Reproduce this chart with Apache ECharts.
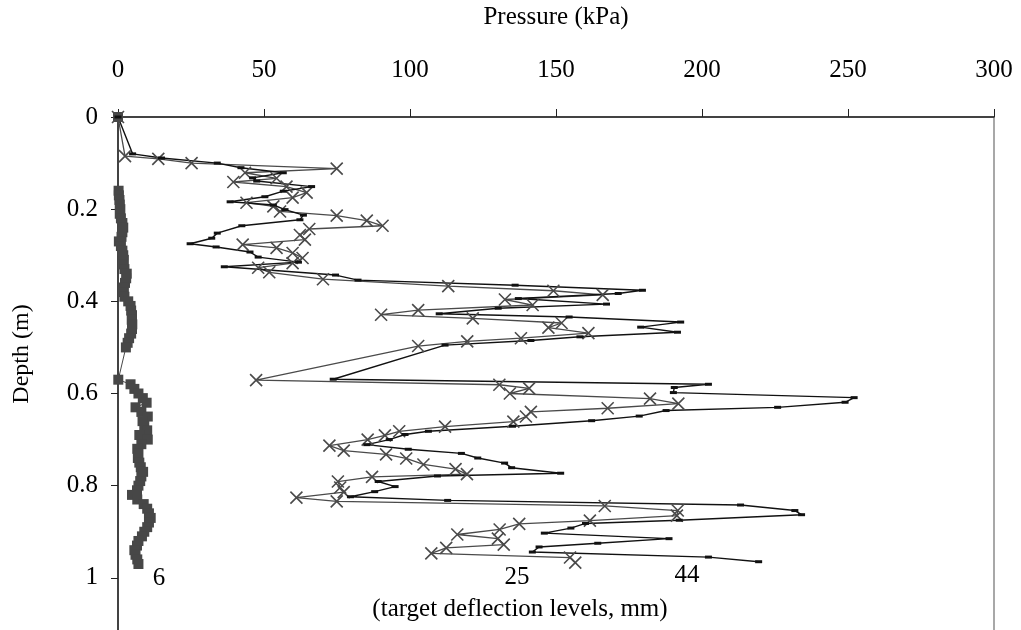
<!DOCTYPE html>
<html>
<head>
<meta charset="utf-8">
<script src="https://cdn.jsdelivr.net/npm/echarts@6/dist/echarts.min.js"></script>
<style>
  html, body { margin: 0; padding: 0; background: #fff; overflow: hidden; }
  #chart { width: 1021px; height: 700px; }
</style>
</head>
<body>
<div id="chart"></div>
<script>
// pressure axis ticks (kPa) and depth ticks (m)
const pressureTicks = [0, 50, 100, 150, 200, 250, 300];
const depthTicks = [0, 0.2, 0.4, 0.6, 0.8, 1];

// 6 mm deflection level (squares)
const sqDepth = [0, 0.08, 0.10, 0.12, 0.14, 0.16, 0.17, 0.18, 0.19, 0.20, 0.21, 0.22, 0.23, 0.24, 0.25,
  0.26, 0.27, 0.28, 0.29, 0.30, 0.31, 0.32, 0.33, 0.34, 0.35, 0.36, 0.37, 0.38, 0.39, 0.40,
  0.41, 0.42, 0.43, 0.44, 0.45, 0.46, 0.47, 0.48, 0.49, 0.50, 0.57, 0.58, 0.59, 0.60, 0.61,
  0.62, 0.63, 0.64, 0.65, 0.66, 0.67, 0.68, 0.69, 0.70, 0.71, 0.72, 0.73, 0.74, 0.75, 0.76,
  0.77, 0.78, 0.79, 0.80, 0.81, 0.82, 0.83, 0.84, 0.85, 0.86, 0.87, 0.88, 0.89, 0.90, 0.91,
  0.92, 0.93, 0.94, 0.95, 0.96, 0.97];
const sqPressure = [0, -2, -1.5, -1.2, -1.3, 0.2, 0.3, 0.5, 0.6, 0.8, 0.6, 1.0, 1.5, 1.8, 1.5,
  1.2, 0.3, 1.0, 1.5, 1.8, 2.0, 1.6, 2.2, 3.0, 2.8, 2.4, 2.0, 1.8, 2.2, 3.5,
  4.3, 4.5, 4.8, 4.7, 4.9, 4.8, 4.5, 3.8, 3.3, 2.7, 0.1, 4.3, 5.6, 7.0, 8.5,
  9.8, 6.0, 8.0, 10.2, 8.4, 9.0, 10.0, 7.3, 10.2, 8.0, 6.6, 7.0, 6.8, 7.3, 7.8,
  8.6, 8.0, 7.6, 7.0, 6.5, 4.8, 6.6, 8.8, 10.0, 10.6, 11.2, 10.6, 10.0, 9.0, 8.2,
  7.0, 6.5, 5.6, 6.0, 6.6, 7.0];

// 25 mm deflection level (crosses)
const xDepth = [0, 0.085, 0.091, 0.100, 0.112, 0.121, 0.133, 0.141, 0.151, 0.164, 0.175, 0.186,
  0.194, 0.205, 0.214, 0.225, 0.236, 0.243, 0.256, 0.266, 0.277, 0.284, 0.295, 0.306, 0.317,
  0.327, 0.337, 0.352, 0.367, 0.377, 0.386, 0.396, 0.408, 0.419, 0.429, 0.437, 0.447, 0.457,
  0.469, 0.480, 0.487, 0.497, 0.571, 0.581, 0.589, 0.600, 0.611, 0.622, 0.632, 0.640, 0.650,
  0.661, 0.672, 0.682, 0.691, 0.700, 0.713, 0.724, 0.732, 0.741, 0.754, 0.764, 0.775, 0.781,
  0.791, 0.804, 0.814, 0.826, 0.834, 0.844, 0.854, 0.865, 0.876, 0.883, 0.895, 0.906, 0.915,
  0.928, 0.935, 0.947, 0.956, 0.967];
const xPressure = [0, 2.4, 13.8, 25.2, 74.9, 43.5, 54.3, 39.5, 57.7, 64.6, 59.8, 44.0,
  53.2, 55.5, 74.9, 85.2, 90.6, 65.5, 62.3, 64.0, 42.7, 54.3, 59.8, 63.2, 59.8,
  48.0, 51.8, 70.2, 113.1, 149.1, 166.0, 132.5, 142.0, 102.8, 90.1, 121.5, 151.9, 147.4,
  161.1, 138.0, 119.6, 102.8, 47.3, 130.6, 140.8, 134.2, 182.2, 191.9, 167.7, 141.4, 139.7,
  135.4, 112.0, 96.3, 91.4, 85.5, 72.4, 77.3, 91.8, 98.7, 104.6, 115.6, 119.5, 87.0,
  75.3, 76.1, 77.3, 61.1, 74.9, 166.7, 191.7, 191.4, 161.6, 137.4, 130.7, 116.2, 130.1,
  132.1, 112.4, 107.3, 154.8, 156.6];

// 44 mm deflection level (dashes)
const dashDepth = [0, 0.080, 0.089, 0.100, 0.110, 0.121, 0.132, 0.139, 0.151, 0.161, 0.173, 0.184,
  0.191, 0.201, 0.213, 0.223, 0.236, 0.252, 0.263, 0.275, 0.282, 0.293, 0.304, 0.315, 0.325,
  0.343, 0.354, 0.365, 0.376, 0.383, 0.394, 0.406, 0.415, 0.427, 0.434, 0.445, 0.456, 0.467,
  0.477, 0.485, 0.495, 0.569, 0.580, 0.587, 0.598, 0.609, 0.619, 0.630, 0.637, 0.649, 0.659,
  0.671, 0.682, 0.689, 0.700, 0.711, 0.721, 0.730, 0.740, 0.751, 0.761, 0.773, 0.779, 0.791,
  0.802, 0.813, 0.824, 0.832, 0.842, 0.854, 0.863, 0.875, 0.882, 0.892, 0.903, 0.915, 0.925,
  0.933, 0.944, 0.955, 0.965];
const dashPressure = [0, 5.0, 14.9, 34.0, 42.1, 56.6, 46.1, 47.5, 66.3, 56.6, 50.3, 38.4,
  53.2, 57.2, 63.5, 62.3, 42.4, 34.0, 32.1, 24.7, 33.6, 45.2, 48.0, 61.8, 36.4,
  74.5, 82.2, 136.0, 179.6, 171.3, 137.1, 167.3, 130.2, 110.0, 154.5, 192.7, 179.0, 191.6,
  158.2, 141.4, 112.0, 73.7, 202.2, 190.5, 190.2, 252.1, 249.0, 225.9, 187.7, 178.5, 162.2,
  135.1, 106.3, 98.3, 92.9, 85.2, 99.4, 117.6, 123.2, 132.4, 134.8, 151.6, 109.4, 89.1,
  94.9, 87.9, 79.6, 112.9, 213.2, 231.8, 234.1, 192.2, 160.1, 155.1, 146.0, 188.7, 164.3,
  144.2, 141.9, 202.2, 219.4];

const levelLabels = ['6', '25', '44'];

const font = 'Liberation Serif';
const zip = (p, d) => p.map((v, i) => [v, d[i]]);
const txt = (text, x, y, size, rot) => ({
  type: 'text', x: x, y: y, rotation: rot || 0,
  style: { text: text, font: size + 'px "Liberation Serif"', fill: '#000',
    textAlign: 'center', textVerticalAlign: 'middle' }
});

const chart = echarts.init(document.getElementById('chart'));
chart.setOption({
  animation: false,
  backgroundColor: '#fff',
  textStyle: { fontFamily: font, color: '#000' },
  grid: {
    left: 118, right: 27, top: 112, bottom: 30,
    show: true, borderColor: '#8c8c8c', borderWidth: 1.5
  },
  xAxis: {
    type: 'value', position: 'top',
    min: pressureTicks[0], max: pressureTicks[pressureTicks.length - 1], interval: 50,
    name: 'Pressure (kPa)', nameLocation: 'middle', nameGap: 87,
    nameTextStyle: { fontFamily: font, fontSize: 25, color: '#000' },
    axisLine: { onZero: false, lineStyle: { color: '#222', width: 1.5 } },
    axisTick: { inside: false, length: 8, lineStyle: { color: '#222' } },
    axisLabel: { margin: 34, fontFamily: font, fontSize: 25, color: '#000' },
    splitLine: { show: false }
  },
  yAxis: {
    type: 'value', inverse: true,
    min: depthTicks[0], max: 1.2, interval: 0.2,
    axisLine: { onZero: false, lineStyle: { color: '#222', width: 1.5 } },
    axisTick: { inside: false, length: 7, lineStyle: { color: '#222' } },
    axisLabel: {
      margin: 20, fontFamily: font, fontSize: 25, color: '#000',
      formatter: v => (v > 1.01 ? '' : String(+v.toFixed(1)))
    },
    splitLine: { show: false }
  },
  series: [
    {
      type: 'line', data: zip(sqPressure, sqDepth), clip: true,
      symbol: 'rect', symbolSize: 10,
      itemStyle: { color: '#474747' },
      lineStyle: { color: '#474747', width: 1 }
    },
    {
      type: 'line', data: zip(xPressure, xDepth), clip: true,
      symbol: 'path://M0,0L10,10M10,0L0,10', symbolSize: 12,
      itemStyle: { color: 'rgba(0,0,0,0)', borderColor: '#4a4a4a', borderWidth: 1.6 },
      lineStyle: { color: '#4a4a4a', width: 1.3 }
    },
    {
      type: 'line', data: zip(dashPressure, dashDepth), clip: true,
      symbol: 'rect', symbolSize: [7, 3],
      itemStyle: { color: '#111' },
      lineStyle: { color: '#111', width: 1.4 }
    }
  ],
  graphic: [
    txt('Depth (m)', 22, 354, 24, Math.PI / 2),
    txt(levelLabels[0], 159, 578, 25),
    txt(levelLabels[1], 517, 577, 25),
    txt(levelLabels[2], 687, 575, 25),
    txt('(target deflection levels, mm)', 520, 609, 25)
  ]
});
</script>
</body>
</html>
